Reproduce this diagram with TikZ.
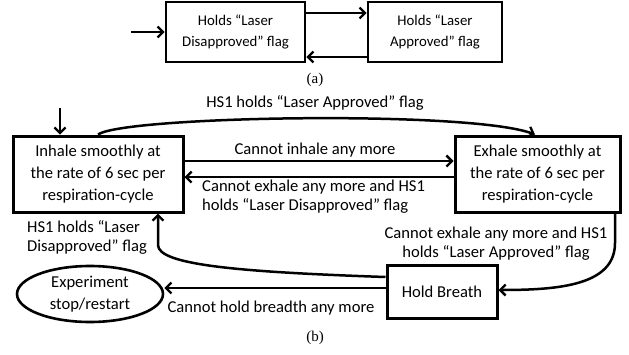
\documentclass[tikz,border=0pt]{standalone}
\usepackage{fontspec}
\setmainfont{Carlito}
\newfontfamily\capfont{Liberation Serif}
\usetikzlibrary{arrows.meta,shapes.geometric}
\tikzset{
  boxa/.style={draw,line width=2.6pt,inner sep=0pt,align=center,font=\fontsize{14.8}{20.5}\selectfont},
  boxb/.style={draw,line width=3pt,inner sep=0pt,align=center,font=\fontsize{16.6}{21.6}\selectfont},
  lbl/.style={inner sep=0pt,font=\fontsize{16.6}{19}\selectfont},
  arr/.style={line width=2.5pt,-{Straight Barb[length=5.5pt,width=11pt,line width=2.3pt]}},
  captxt/.style={inner sep=0pt,font=\capfont\fontsize{15}{18}\selectfont}
}
\begin{document}
\begin{tikzpicture}[x=1pt,y=-1pt]
\useasboundingbox (0,0) rectangle (629,354);
% ---------- (a)
\node[boxa,minimum width=139pt,minimum height=60pt] (a1) at (235.5,32) {Holds “Laser\\Disapproved” flag};
\node[boxa,minimum width=134pt,minimum height=60pt] (a2) at (435,32) {Holds “Laser\\Approved” flag};
\coordinate (a0) at (131,32);
\coordinate (ya) at (0,13);
\coordinate (yb) at (0,57);
\draw[arr] (a0) -- (a1.west);
\draw[arr] (a1.east |- ya) -- (a2.west |- ya);
\draw[arr] (a2.west |- yb) -- (a1.east |- yb);
\node[captxt] (capa) at (315,80) {(a)};
% ---------- (b)
\node[boxb,minimum width=170pt,minimum height=76pt] (inh) at (98,174) {Inhale smoothly at\\the rate of 6 sec per\\respiration-cycle};
\node[boxb,minimum width=165pt,minimum height=76pt] (exh) at (537.5,174) {Exhale smoothly at\\the rate of 6 sec per\\respiration-cycle};
\node[boxb,minimum width=110pt,minimum height=53pt] (hold) at (442,291.5) {Hold Breath};
\node[boxb,line width=2.6pt,ellipse,inner sep=0pt,minimum width=146pt,minimum height=56pt] (ell) at (90,294) {Experiment\\stop/restart};
% coordinates
\coordinate (b0) at (60,108);
\coordinate (xi) at (60,0);
\coordinate (xt1) at (98,0);
\coordinate (xt2) at (535,0);
\coordinate (y1) at (0,161);
\coordinate (y2) at (0,177);
\coordinate (xr) at (615,0);
\coordinate (xl) at (158,0);
\coordinate (yh1) at (0,277);
\coordinate (yh2) at (0,290);
\coordinate (yh3) at (0,288);
% connectors
\draw[arr] (b0) -- (inh.north -| xi);
\draw[arr] (inh.north -| xt1) .. controls (125,116) and (470,110) .. (exh.north -| xt2);
\draw[arr] (inh.east |- y1) -- (exh.west |- y1);
\draw[arr] (exh.west |- y2) -- (inh.east |- y2);
\draw[arr] (exh.south -| xr) -- (615,243) .. controls (615,285) and (560,290) .. (hold.east |- yh2);
\draw[arr] (hold.west |- yh1) .. controls (240,272) and (158,265) .. (158,245) -- (inh.south -| xl);
\draw[arr] (hold.west |- yh3) -- (ell.east |- yh3);
% labels
\node[lbl] (t0) at (315,103) {HS1 holds “Laser Approved” flag};
\node[lbl] (t1) at (315,150) {Cannot inhale any more};
\node[lbl,align=left,anchor=west] (t2) at (202,197) {Cannot exhale any more and HS1\\holds “Laser Disapproved” flag};
\node[lbl,align=left,anchor=west] (t3) at (27,237) {HS1 holds “Laser\\Disapproved” flag};
\node[lbl,align=center] (t4) at (496,244) {Cannot exhale any more and HS1\\holds “Laser Approved” flag};
\node[lbl] (t5) at (271,308) {Cannot hold breadth any more};
\node[captxt] (capb) at (315,338) {(b)};
\end{tikzpicture}
\end{document}
